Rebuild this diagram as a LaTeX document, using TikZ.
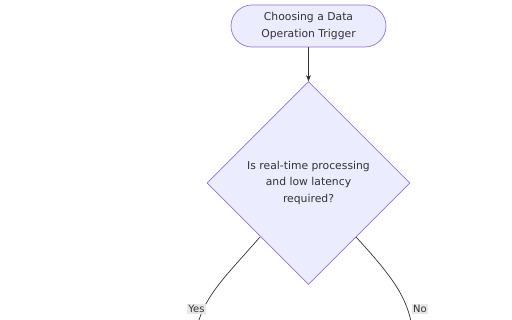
\documentclass[tikz,border=0pt]{standalone}
\usepackage{fontspec}
\setmainfont{DejaVu Sans}
\usetikzlibrary{shapes.geometric,arrows.meta}
\definecolor{nodefill}{HTML}{ECECFF}
\definecolor{nodeline}{HTML}{9370DB}
\definecolor{ink}{HTML}{333333}
\definecolor{lblbg}{HTML}{E8E8E8}
\tikzset{
  base/.style={fill=nodefill,draw=nodeline,line width=0.7pt,text=ink,align=center,
    font=\fontsize{10.8}{16.5}\selectfont},
  stadium/.style={base,rectangle,rounded corners=21pt,minimum width=155pt,minimum height=42pt,inner sep=0pt},
  decision/.style={base,diamond,minimum width=203pt,minimum height=203pt,inner sep=0pt},
  link/.style={draw=ink,line width=0.7pt},
  lbl/.style={fill=lblbg,text=ink,inner sep=1.5pt,font=\fontsize{10}{11}\selectfont}
}
\begin{document}
\begin{tikzpicture}[x=1pt,y=-1pt]
\useasboundingbox (0,0) rectangle (512,320);
\clip (0,0) rectangle (512,320);
\fill[white] (0,0) rectangle (512,320);
\node[stadium] (start) at (308.5,26) {Choosing a Data\\Operation Trigger};
\node[decision] (q) at (308.5,183) {Is real-time processing\\and low latency\\required?};
\draw[link,-{Stealth[length=6pt,width=5pt]}] (start) -- (q);
\coordinate (yesend) at (194,350);
\coordinate (noend) at (414,350);
\draw[link] (260,237) .. controls (218,285) and (196,303) .. (yesend);
\draw[link] (356,237) .. controls (400,285) and (413,305) .. (noend);
\node[lbl] (yes) at (196.5,309) {Yes};
\node[lbl] (no) at (420,309) {No};
\end{tikzpicture}
\end{document}
